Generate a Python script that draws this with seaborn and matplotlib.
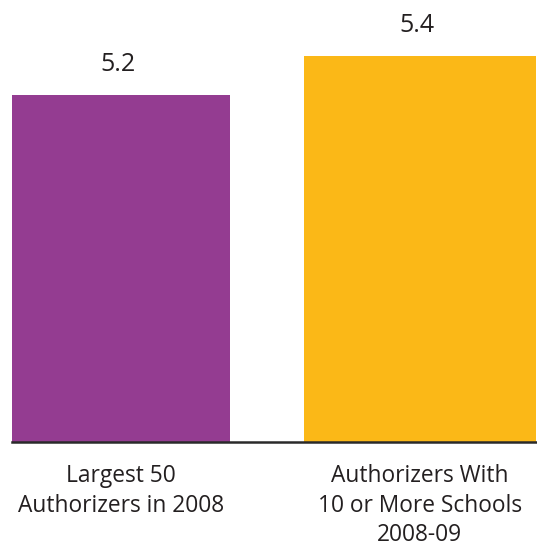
import matplotlib
matplotlib.use("Agg")
import matplotlib.pyplot as plt
import seaborn as sns
import pandas as pd

# Average number of schools per authorizer
categories = ["Largest 50\nAuthorizers in 2008",
              "Authorizers With\n10 or More Schools\n2008-09"]
values = [5.2, 5.4]
value_labels = ["5.2", "5.4"]

bar_colors = ["#943C91", "#FBB817"]
bar_widths = [0.73, 0.775]
text_color = "#231F20"

sns.set_theme(style="white")
plt.rcParams["font.family"] = ["Open Sans", "DejaVu Sans"]

df = pd.DataFrame({"category": categories, "value": values})

fig = plt.figure(figsize=(5.37, 5.48), dpi=100)
ax = fig.add_axes([12 / 537, 106 / 548, 524.7 / 537, 442 / 548])

sns.barplot(data=df, x="category", y="value", hue="category",
            palette=bar_colors, width=0.75, legend=False, ax=ax,
            saturation=1, edgecolor="none", linewidth=0)

# per-bar widths, keeping each bar centred on its category
for patch, w in zip(ax.patches, bar_widths):
    cx = patch.get_x() + patch.get_width() / 2
    patch.set_width(w)
    patch.set_x(cx - w / 2)

ax.set_xlim(-0.365, 1.391)
ax.set_ylim(3.4205, 5.687)

for patch, lab in zip(ax.patches, value_labels):
    ax.annotate(lab, (patch.get_x() + patch.get_width() / 2, patch.get_height()),
                xytext=(-2, 13), textcoords="offset points",
                ha="center", va="bottom", fontsize=18, color=text_color)

for side in ["top", "left", "right"]:
    ax.spines[side].set_visible(False)
ax.spines["bottom"].set_color("#2a2a2a")
ax.spines["bottom"].set_linewidth(1.8)

ax.set_yticks([])
ax.set_xlabel("")
ax.set_ylabel("")
ax.tick_params(axis="x", length=0, pad=16, labelsize=16.4, labelcolor=text_color)
for t in ax.get_xticklabels():
    t.set_linespacing(1.3)

fig.savefig("out.png", dpi=100)
